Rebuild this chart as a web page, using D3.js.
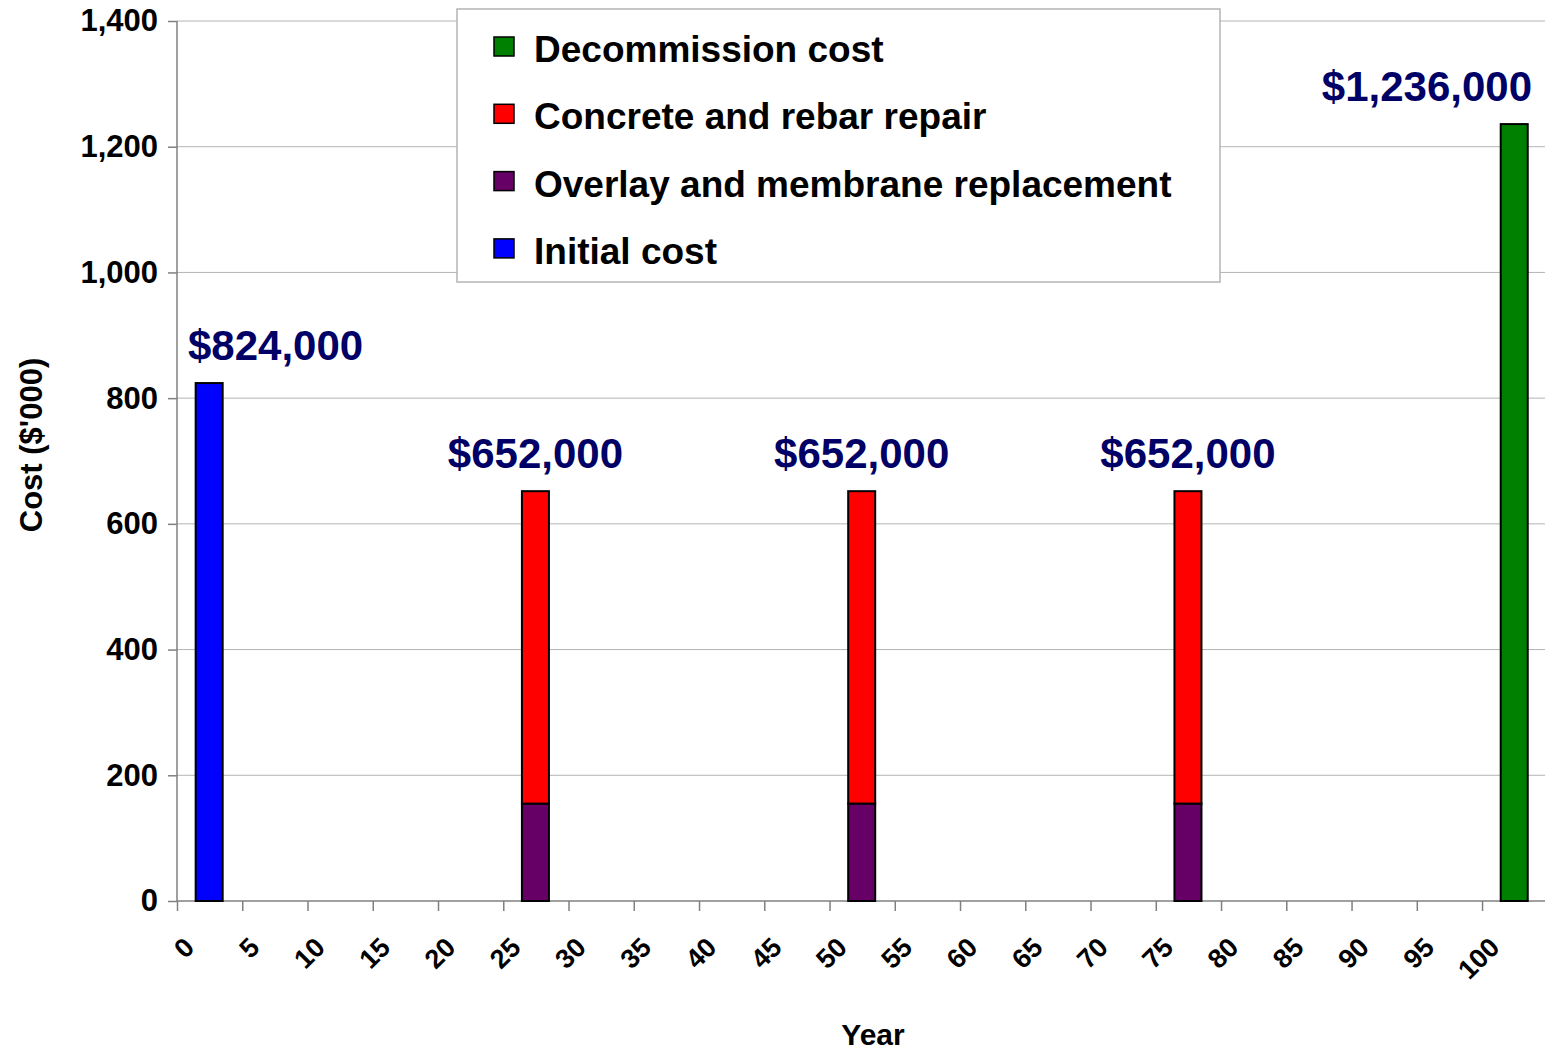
<!DOCTYPE html>
<html>
<head>
<meta charset="utf-8">
<script src="https://cdn.jsdelivr.net/npm/d3@7"></script>
<style>
  body { margin: 0; background: #fff; }
  svg { display: block; font-family: "Liberation Sans", Arial, sans-serif; font-weight: bold; }
  .grid line { stroke: #b4b4b4; stroke-width: 1; }
  .axis path, .axis line { stroke: #808080; stroke-width: 1.5; }
</style>
</head>
<body>
<script>
// years where a cost happens, in $'000
const years = [0, 25, 50, 75, 100];
const initialCost = [824, 0, 0, 0, 0];
const overlayCost = [0, 155, 155, 155, 0];
const concreteCost = [0, 497, 497, 497, 0];
const decommissionCost = [0, 0, 0, 0, 1236];

const seriesNames = ["Initial cost", "Overlay and membrane replacement", "Concrete and rebar repair", "Decommission cost"];
const seriesColors = ["#0000ff", "#660066", "#ff0000", "#008000"];
const yTicks = [0, 200, 400, 600, 800, 1000, 1200, 1400];
const xTicks = d3.range(0, 101, 5);

let width = 1545, height = 1053;
let margin = {top: 21, right: 0, bottom: 152, left: 177};

let table = years.map(function(yr, i) {
  return {year: yr, s0: initialCost[i], s1: overlayCost[i], s2: concreteCost[i], s3: decommissionCost[i]};
});
let keys = ["s0", "s1", "s2", "s3"];
let stacked = d3.stack().keys(keys)(table);

let x = d3.scaleLinear().domain([0, 104.9]).range([margin.left, width + 1]);
let y = d3.scaleLinear().domain([0, 1400]).range([height - margin.bottom, margin.top]);

// bars sit just right of the year tick, about two years wide
let barStart = 1.43, barEnd = 3.5;

let svg = d3.select("body").append("svg").attr("width", width).attr("height", height);

// gridlines
svg.append("g").attr("class", "grid")
  .selectAll("line").data(yTicks.slice(1)).join("line")
  .attr("x1", margin.left).attr("x2", width)
  .attr("y1", d => y(d)).attr("y2", d => y(d));

// y axis
let yAxis = svg.append("g").attr("class", "axis")
  .attr("transform", "translate(" + margin.left + ",0)")
  .call(d3.axisLeft(y).tickValues(yTicks).tickFormat(d3.format(",")).tickSize(9).tickPadding(10));
yAxis.select(".domain").attr("d", "M0," + y(1400) + "V" + y(0));
yAxis.selectAll("text").attr("font-size", 31).attr("fill", "#000").attr("font-weight", "bold")
  .attr("font-family", "Liberation Sans, Arial, sans-serif");

// x axis
let xAxis = svg.append("g").attr("class", "axis")
  .attr("transform", "translate(0," + y(0) + ")")
  .call(d3.axisBottom(x).tickValues(xTicks).tickSize(10).tickFormat(""));
xAxis.select(".domain").attr("d", "M" + margin.left + ",0H" + width);

svg.append("g").selectAll("text").data(xTicks).join("text")
  .attr("transform", d => "translate(" + (x(d) + 19) + "," + (y(0) + 48) + ") rotate(-45)")
  .attr("text-anchor", "end")
  .attr("font-size", 27)
  .text(d => d);

// stacked bars
svg.append("g").selectAll("g").data(stacked).join("g")
  .attr("fill", (d, i) => seriesColors[i])
  .selectAll("rect").data(d => d.filter(p => p[1] > p[0])).join("rect")
  .attr("x", d => x(d.data.year + barStart))
  .attr("width", d => x(d.data.year + barEnd) - x(d.data.year + barStart))
  .attr("y", d => y(d[1]))
  .attr("height", d => y(d[0]) - y(d[1]))
  .attr("stroke", "#000").attr("stroke-width", 2);

// total labels above bars
let fmt = d3.format(",");
let labels = svg.append("g").selectAll("text").data(table).join("text")
  .attr("font-size", 42)
  .attr("fill", "#000066")
  .attr("text-anchor", "middle")
  .text(d => "$" + fmt((d.s0 + d.s1 + d.s2 + d.s3) * 1000));
labels.each(function(d) {
  let total = d.s0 + d.s1 + d.s2 + d.s3;
  let w = this.getComputedTextLength();
  let cx = (x(d.year + barStart) + x(d.year + barEnd)) / 2;
  cx = Math.max(margin.left + 11 + w / 2, Math.min(width - 13 - w / 2, cx));
  d3.select(this).attr("x", cx).attr("y", y(total) - 23);
});

// legend
let legend = svg.append("g");
legend.append("rect")
  .attr("x", 457).attr("y", 9).attr("width", 763).attr("height", 273)
  .attr("fill", "#fff").attr("stroke", "#b4b4b4").attr("stroke-width", 1.5);
let legendOrder = [3, 2, 1, 0];
let items = legend.selectAll("g").data(legendOrder).join("g")
  .attr("transform", (d, i) => "translate(494," + (37 + i * 67.3) + ")");
items.append("rect").attr("width", 20).attr("height", 19)
  .attr("fill", d => seriesColors[d]).attr("stroke", "#000").attr("stroke-width", 1.5);
items.append("text").attr("x", 40).attr("y", 25)
  .attr("font-size", 37).attr("fill", "#000")
  .text(d => seriesNames[d]);

// axis titles
svg.append("text")
  .attr("transform", "translate(42," + ((y(0) + y(1400)) / 2 - 16) + ") rotate(-90)")
  .attr("text-anchor", "middle").attr("font-size", 31)
  .text("Cost ($'000)");
svg.append("text")
  .attr("x", 873).attr("y", 1045)
  .attr("text-anchor", "middle").attr("font-size", 30)
  .text("Year");
</script>
</body>
</html>
